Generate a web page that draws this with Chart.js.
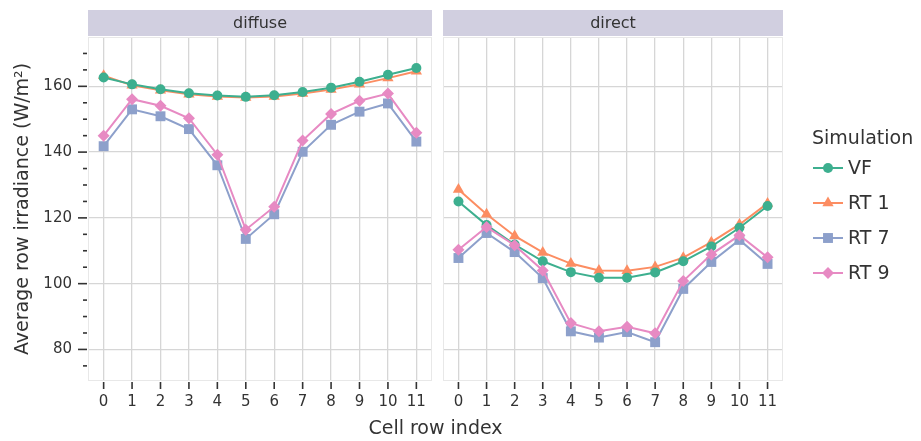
<!DOCTYPE html>
<html>
<head>
<meta charset="utf-8">
<script src="https://cdn.jsdelivr.net/npm/chart.js@4.4.1/dist/chart.umd.min.js"></script>
<style>
  html, body { margin: 0; padding: 0; background: #ffffff; }
  #wrap { position: relative; width: 921px; height: 441px; overflow: hidden; }
  .pane { position: absolute; top: 0; height: 441px; }
  #paneL { left: 0; width: 440px; }
  #paneR { left: 436px; width: 485px; }
  #xtitle { position: absolute; left: 0; width: 871px; top: 416px; text-align: center;
            font: 19px "DejaVu Sans", sans-serif; color: #333; }
</style>
</head>
<body>
<div id="wrap">
  <div class="pane" id="paneL"><canvas id="cL" width="440" height="441"></canvas></div>
  <div class="pane" id="paneR"><canvas id="cR" width="485" height="441"></canvas></div>
  <div id="xtitle">Cell row index</div>
</div>
<script>
// Cell row indices shared by both panels
const cellRows = [0, 1, 2, 3, 4, 5, 6, 7, 8, 9, 10, 11];

// Panel names
const panelNames = ['diffuse', 'direct'];

// Simulation names
const simulations = ['VF', 'RT 1', 'RT 7', 'RT 9'];

// Average row irradiance (W/m²), diffuse panel
const diffuseVF  = [162.7, 160.6, 159.1, 157.9, 157.2, 156.8, 157.3, 158.3, 159.6, 161.4, 163.5, 165.6];
const diffuseRT1 = [163.2, 160.3, 158.8, 157.6, 156.9, 156.6, 156.9, 157.8, 159.0, 160.6, 162.5, 164.6];
const diffuseRT7 = [141.8, 153.0, 150.9, 147.0, 136.0, 113.6, 121.1, 140.1, 148.3, 152.3, 154.8, 143.2];
const diffuseRT9 = [145.0, 156.1, 154.1, 150.3, 139.2, 116.4, 123.4, 143.5, 151.6, 155.6, 157.8, 145.9];

// Average row irradiance (W/m²), direct panel
const directVF  = [125.0, 117.8, 111.9, 106.8, 103.5, 101.8, 101.8, 103.4, 106.8, 111.3, 117.0, 123.6];
const directRT1 = [128.6, 121.1, 114.5, 109.5, 106.1, 104.0, 103.9, 105.1, 107.9, 112.6, 118.0, 124.4];
const directRT7 = [107.8, 115.4, 109.6, 101.7, 85.5, 83.6, 85.3, 82.2, 98.4, 106.6, 113.3, 106.0];
const directRT9 = [110.3, 117.2, 111.7, 104.0, 88.0, 85.5, 86.9, 84.9, 100.8, 108.9, 114.7, 108.0];

// Y axis: labelled ticks and minor ticks
const yMajorTicks = [80, 100, 120, 140, 160];
const yMinorTicks = [75, 85, 90, 95, 105, 110, 115, 125, 130, 135, 145, 150, 155, 165, 170];

const FONT = '"DejaVu Sans", sans-serif';
const TEXT = '#333333';
const GRID = '#d6d6d6';
const STRIP = '#d1cfe0';

const styles = [
  { color: '#3daf8f', pointStyle: 'circle',   radius: 5,   order: 2 },
  { color: '#fc8d62', pointStyle: 'triangle', radius: 6.5, order: 3 },
  { color: '#8da0cb', pointStyle: 'rect',     radius: 7,   order: 1 },
  { color: '#e78ac3', pointStyle: 'rectRot',  radius: 6,   order: 0 }
];

function makeDatasets(seriesList) {
  return seriesList.map((vals, i) => ({
    label: simulations[i],
    data: cellRows.map((x, k) => ({ x: x, y: vals[k] })),
    borderColor: styles[i].color,
    backgroundColor: styles[i].color,
    borderWidth: 2,
    pointStyle: styles[i].pointStyle,
    pointRadius: styles[i].radius,
    pointBorderWidth: 0,
    pointHoverRadius: styles[i].radius,
    order: styles[i].order,
    tension: 0
  }));
}

// Strip header, panel frame and axis tick marks
const facetPlugin = {
  id: 'facet',
  beforeDraw(chart, args, opts) {
    const a = chart.chartArea, ctx = chart.ctx;
    ctx.save();
    ctx.fillStyle = STRIP;
    ctx.fillRect(a.left, 10, a.right - a.left, 26);
    ctx.fillStyle = TEXT;
    ctx.font = '16px ' + FONT;
    ctx.textAlign = 'center';
    ctx.textBaseline = 'middle';
    ctx.fillText(opts.title, (a.left + a.right) / 2, 23.5);
    ctx.restore();
  },
  afterDraw(chart, args, opts) {
    const a = chart.chartArea, ctx = chart.ctx;
    ctx.save();
    ctx.strokeStyle = '#e8e8e8';
    ctx.lineWidth = 1;
    ctx.strokeRect(a.left + 0.5, a.top + 0.5, a.right - a.left - 1, a.bottom - a.top - 1);
    ctx.strokeStyle = TEXT;
    ctx.lineWidth = 1.6;
    const xs = chart.scales.x;
    cellRows.forEach(v => {
      const px = xs.getPixelForValue(v);
      ctx.beginPath(); ctx.moveTo(px, a.bottom + 1); ctx.lineTo(px, a.bottom + 8); ctx.stroke();
    });
    if (opts.yTicks) {
      const ys = chart.scales.y;
      yMajorTicks.forEach(v => {
        const py = ys.getPixelForValue(v);
        ctx.beginPath(); ctx.moveTo(a.left - 10, py); ctx.lineTo(a.left - 1, py); ctx.stroke();
      });
      yMinorTicks.forEach(v => {
        const py = ys.getPixelForValue(v);
        ctx.beginPath(); ctx.moveTo(a.left - 5, py); ctx.lineTo(a.left - 1, py); ctx.stroke();
      });
    }
    ctx.restore();
  }
};

// Legend drawn beside the right panel
const legendPlugin = {
  id: 'simLegend',
  afterDraw(chart) {
    const ctx = chart.ctx;
    const x0 = 812 - 436;
    ctx.save();
    ctx.fillStyle = TEXT;
    ctx.font = '19px ' + FONT;
    ctx.textAlign = 'left';
    ctx.textBaseline = 'middle';
    ctx.fillText('Simulation', x0, 139);
    simulations.forEach((name, i) => {
      const y = 168 + i * 35;
      const st = styles[i];
      ctx.strokeStyle = st.color;
      ctx.lineWidth = 2;
      ctx.beginPath(); ctx.moveTo(x0 + 1, y); ctx.lineTo(x0 + 31, y); ctx.stroke();
      ctx.fillStyle = st.color;
      Chart.helpers.drawPoint(ctx, {
        pointStyle: st.pointStyle, radius: st.radius, rotation: 0, borderWidth: 0
      }, x0 + 16, y);
      ctx.fillStyle = TEXT;
      ctx.fillText(name, x0 + 36, y + 1);
    });
    ctx.restore();
  }
};

function baseOptions(panel, showY) {
  return {
    responsive: false,
    animation: false,
    events: [],
    layout: { padding: panel.padding },
    plugins: {
      legend: { display: false },
      tooltip: { enabled: false },
      facet: { title: panel.title, yTicks: showY }
    },
    scales: {
      x: {
        type: 'linear',
        min: -0.55,
        max: 11.55,
        afterBuildTicks: s => { s.ticks = cellRows.map(v => ({ value: v })); },
        afterFit: s => { s.height = 60; },
        grid: { color: GRID, lineWidth: 1.3, drawTicks: false },
        border: { display: false },
        ticks: {
          padding: 12,
          color: TEXT,
          font: { family: FONT, size: 15 },
          maxRotation: 0,
          autoSkip: false,
          callback: v => String(v)
        }
      },
      y: {
        type: 'linear',
        min: 70.4,
        max: 175,
        afterBuildTicks: s => { s.ticks = yMajorTicks.map(v => ({ value: v })); },
        afterFit: s => { s.width = showY ? 88 : 0; },
        grid: { color: GRID, lineWidth: 1.3, drawTicks: false },
        border: { display: false },
        title: {
          display: showY,
          text: 'Average row irradiance (W/m²)',
          color: TEXT,
          font: { family: FONT, size: 19 },
          padding: { top: 12, bottom: 0 }
        },
        ticks: {
          display: showY,
          padding: 16,
          color: TEXT,
          font: { family: FONT, size: 15 },
          callback: v => String(v)
        }
      }
    }
  };
}

new Chart(document.getElementById('cL'), {
  type: 'line',
  data: { datasets: makeDatasets([diffuseVF, diffuseRT1, diffuseRT7, diffuseRT9]) },
  options: baseOptions({ title: panelNames[0], padding: { left: 0, top: 37, right: 8, bottom: 0 } }, true),
  plugins: [facetPlugin]
});

new Chart(document.getElementById('cR'), {
  type: 'line',
  data: { datasets: makeDatasets([directVF, directRT1, directRT7, directRT9]) },
  options: baseOptions({ title: panelNames[1], padding: { left: 5, top: 37, right: 138, bottom: 0 } }, false),
  plugins: [facetPlugin, legendPlugin]
});
</script>
</body>
</html>
